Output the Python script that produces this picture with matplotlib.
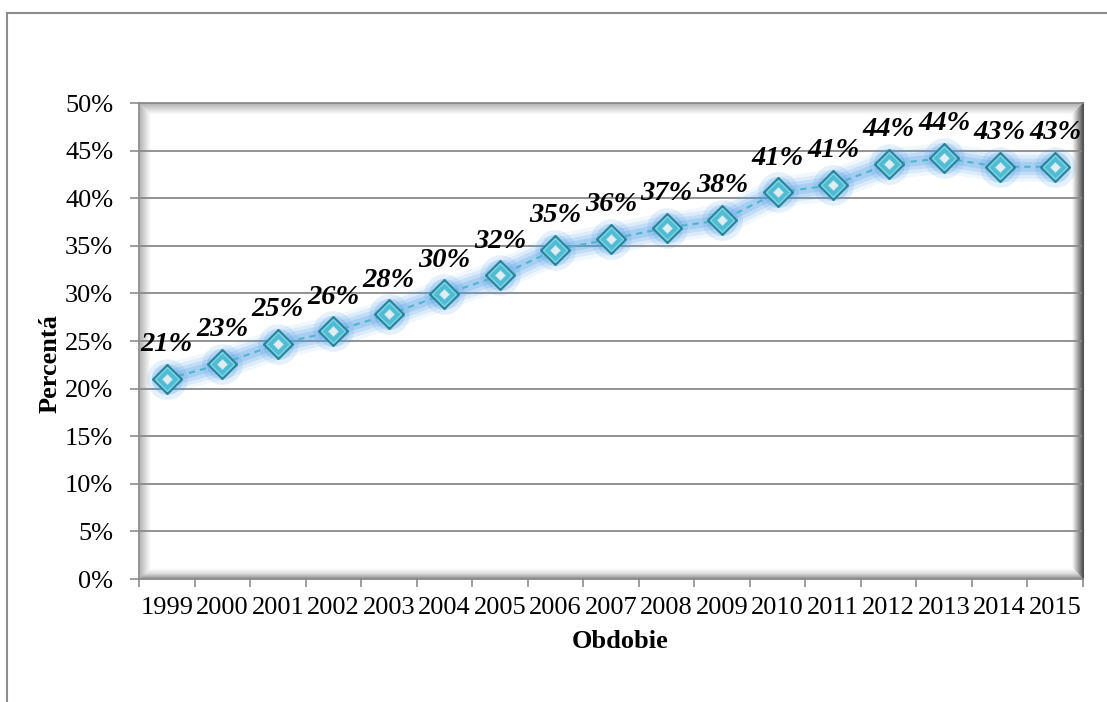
import matplotlib
matplotlib.use('Agg')
import matplotlib.pyplot as plt
from matplotlib.lines import Line2D

years = ['1999', '2000', '2001', '2002', '2003', '2004', '2005', '2006', '2007',
         '2008', '2009', '2010', '2011', '2012', '2013', '2014', '2015']
shares = [21.0, 22.6, 24.7, 26.0, 27.8, 29.9, 31.9, 34.6, 35.7,
          36.9, 37.7, 40.6, 41.4, 43.6, 44.2, 43.3, 43.3]
y_ticks = [0, 5, 10, 15, 20, 25, 30, 35, 40, 45, 50]

W, H = 1107, 702
plt.rcParams['font.family'] = ['Liberation Serif', 'DejaVu Serif']

fig = plt.figure(figsize=(W / 100, H / 100), dpi=100)
fig.patch.set_facecolor('white')

# plot area in pixels
L, R, T, B = 139, 1083, 103, 579
ax = fig.add_axes([L / W, 1 - B / H, (R - L) / W, (B - T) / H])
ax.set_facecolor('none')
ax.set_zorder(1)


def fx(px):
    return px / W


def fy(py):
    return 1 - py / H


# outer chart frame (left and top edges visible)
fig.add_artist(Line2D([fx(7), fx(7)], [fy(13), fy(702)], color='#8c8c8c', lw=1.5))
fig.add_artist(Line2D([fx(7), fx(1107)], [fy(13), fy(13)], color='#8c8c8c', lw=1.5))

# bevelled plot area border, drawn beneath the axes
band = 11
for i in range(band):
    t = i / (band - 1)
    light = 0.72 + 0.27 * t
    dark = 0.35 + 0.62 * t
    xl, xr = L + 1 + i, R - 1 - i
    yt, yb = T + 1 + i, B - 1 - i
    fig.add_artist(Line2D([fx(xl), fx(xl)], [fy(yt), fy(yb)], color=str(light), lw=1, zorder=0))
    fig.add_artist(Line2D([fx(xl), fx(xr)], [fy(yt), fy(yt)], color=str(light), lw=1, zorder=0))
    fig.add_artist(Line2D([fx(xr), fx(xr)], [fy(yt), fy(yb)], color=str(dark), lw=1, zorder=0))
    fig.add_artist(Line2D([fx(xl), fx(xr)], [fy(yb), fy(yb)], color=str(min(light, dark + 0.2)), lw=1, zorder=0))

x = list(range(len(years)))
ax.set_xlim(-0.5, len(years) - 0.5)
ax.set_ylim(0, 50)
ax.set_yticks(y_ticks)
ax.set_yticklabels([f'{v}%' for v in y_ticks])
ax.set_xticks([i - 0.5 for i in range(len(years) + 1)])
ax.set_xticklabels([])
ax.set_xticks(x, minor=True)
ax.set_xticklabels(years, minor=True)
ax.tick_params(axis='x', which='minor', length=0, pad=13, labelsize=19)
ax.tick_params(axis='x', which='major', length=6, color='#8c8c8c', width=1.2)
ax.tick_params(axis='y', length=6.5, color='#8c8c8c', width=1.2, pad=12, labelsize=19)
ax.yaxis.grid(True, color='#8a8a8a', lw=1.3)
ax.set_axisbelow(True)
for s in ['left', 'bottom', 'top']:
    ax.spines[s].set_color('#8c8c8c')
    ax.spines[s].set_linewidth(1.3)
ax.spines['right'].set_color('#555555')
ax.spines['right'].set_linewidth(1.5)

ax.set_ylabel('Percentá', fontsize=19, fontweight='bold')
ax.yaxis.set_label_coords(-0.082, 0.452)
ax.set_xlabel('Obdobie', fontsize=19, fontweight='bold')
ax.xaxis.set_label_coords(0.51, -0.108)

# soft blue glow under the series
for lw, a in [(22, 0.08), (17, 0.12), (12, 0.18), (7, 0.22)]:
    ax.plot(x, shares, color='#4a9be6', lw=lw, alpha=a, solid_capstyle='round',
            solid_joinstyle='round', zorder=3)
ax.scatter(x, shares, s=850, color='#4a9be6', alpha=0.15, lw=0, zorder=3)
ax.scatter(x, shares, s=500, color='#4a9be6', alpha=0.22, lw=0, zorder=3)

ax.plot(x, shares, color='#4fb6cc', lw=1.5, ls=(0, (3, 2.5)), zorder=4)

# diamond markers with a bevelled look
ax.plot(x, shares, ls='none', marker='D', ms=15, mfc='#2a8499', mec='#2a8499', zorder=5)
ax.plot(x, shares, ls='none', marker='D', ms=12.5, mfc='#4fbcd4', mec='#7fd6e8', mew=1, zorder=6)
ax.plot(x, shares, ls='none', marker='D', ms=5, mfc='#dfeef2', mec='#c0dde5', mew=0.5, zorder=7)

for xi, v in zip(x, shares):
    ax.annotate(f'{v:.0f}%', (xi, v), xytext=(0, 20), textcoords='offset points',
                ha='center', va='baseline', fontsize=20.5, fontweight='bold',
                fontstyle='italic', zorder=8, annotation_clip=False)

fig.savefig('out.png', dpi=100)
